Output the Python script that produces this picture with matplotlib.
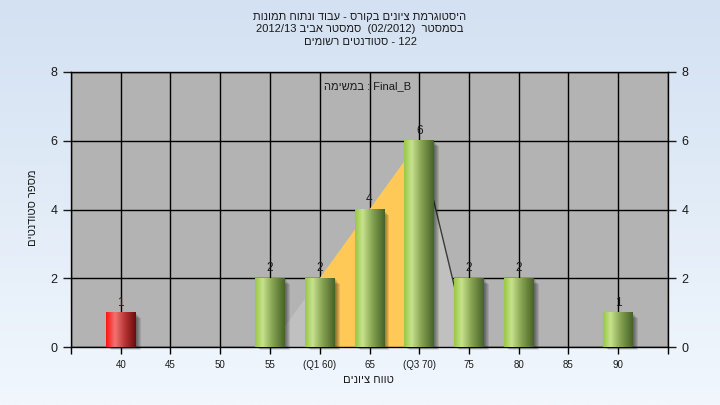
import numpy as np
import matplotlib
matplotlib.use("Agg")
from matplotlib import pyplot as plt
from matplotlib.colors import LinearSegmentedColormap
from matplotlib.patches import Rectangle, Polygon

plt.rcParams["font.family"] = ["Liberation Sans", "DejaVu Sans"]

GRADES = [40, 45, 50, 55, 60, 65, 70, 75, 80, 85, 90]
TICK_LABELS = ["40", "45", "50", "55", "(Q1 60)", "65", "(Q3 70)", "75", "80", "85", "90"]
COUNTS = [1, 0, 0, 2, 2, 4, 6, 2, 2, 0, 1]
PASS_GRADE = 55

# triangle behind the bars and the quartile band
TRI_X = [55, 70, 75]
TRI_Y = [0, 6, 0]
Q1, Q3 = 60, 70

TITLE_1 = "היסטוגרמת ציונים בקורס - עבוד ונתוח תמונות"
TITLE_2A = "סמסטר אביב"
TITLE_2B = "בסמסטר"
TITLE_3 = "סטודנטים רשומים"
TASK = "במשימה"
X_LABEL = "טווח ציונים"
Y_LABEL = "מספר סטודנטים"


def rtl(s):
    # matplotlib has no bidi, so lay the hebrew out in visual order
    return s[::-1]


green = LinearSegmentedColormap.from_list(
    "g", [(0, "#98c845"), (0.25, "#c8e28e"), (0.6, "#83a150"), (1, "#48632a")])
red = LinearSegmentedColormap.from_list(
    "r", [(0, "#ff1515"), (0.3, "#f27272"), (0.65, "#b43232"), (1, "#6c0c0c")])

fig = plt.figure(figsize=(7.2, 4.05), dpi=100)

# background gradient
bg = fig.add_axes([0, 0, 1, 1], zorder=-5)
bg.imshow(np.linspace(0, 1, 256)[:, None], aspect="auto", extent=[0, 1, 0, 1],
          cmap=LinearSegmentedColormap.from_list("bg", ["#d3e1f2", "#f1f7fd"]))
bg.axis("off")

ax = fig.add_axes([71 / 720, 1 - 347 / 405, 597 / 720, 275 / 405])
ax.set_facecolor("#b3b3b3")
ax.set_axisbelow(True)
ax.grid(True, color="black", linewidth=1)

# triangle + quartile band
ax.add_patch(Polygon(list(zip(TRI_X, TRI_Y)), closed=True, facecolor="#c0c0c0",
                     edgecolor="none", zorder=1.5))
qx = [Q1, Q1, Q3, Q3]
qy = [0, np.interp(Q1, TRI_X, TRI_Y), np.interp(Q3, TRI_X, TRI_Y), 0]
ax.add_patch(Polygon(list(zip(qx, qy)), closed=True, facecolor="#ffc957",
                     edgecolor="none", zorder=1.6))
ax.plot(TRI_X[1:], TRI_Y[1:], color="#3a3a3a", linewidth=1, zorder=1.7)

width = 3.0
px = 60 / 597
py = 8 / 275
grad = np.linspace(0, 1, 64)[None, :]
for g, c in zip(GRADES, COUNTS):
    if c == 0:
        continue
    x0 = g - width / 2
    # soft shadow
    for k in range(1, 6):
        ax.add_patch(Rectangle((x0 + k * px, -k * py * 0.6), width, c - k * py * 0.5,
                               facecolor="black", alpha=0.1, edgecolor="none",
                               zorder=2, clip_on=False))
    cmap = red if g < PASS_GRADE else green
    ax.imshow(grad, cmap=cmap, aspect="auto", extent=[x0, x0 + width, 0, c],
              zorder=3, interpolation="bilinear")
    ax.text(g, c + 0.12, str(c), ha="center", va="bottom", fontsize=8.5,
            color="#3a1010" if g < PASS_GRADE else "#1a1a1a", zorder=4)

ax.set_xlim(35, 95)
ax.set_ylim(0, 8)
ax.set_xticks(range(35, 96, 5))
ax.set_xticklabels([""] + TICK_LABELS + [""], fontsize=7, color="#1a1a1a")
ax.set_yticks([0, 2, 4, 6, 8])
ax.tick_params(axis="y", labelsize=9, length=6, width=1, right=True,
               labelright=True, colors="#1a1a1a")
ax.tick_params(axis="x", length=5, width=1, pad=4)
for s in ax.spines.values():
    s.set_color("black")
    s.set_linewidth(1)

fig.text(0.5, 1 - 17 / 405, rtl(TITLE_1), ha="center", va="center", fontsize=8,
         color="#1a1a1a")
fig.text(0.5, 1 - 29 / 405,
         "2012/13 " + rtl(TITLE_2A) + "  (02/2012)  " + rtl(TITLE_2B),
         ha="center", va="center", fontsize=8, color="#1a1a1a")
fig.text(0.5, 1 - 42 / 405, rtl(TITLE_3) + " - 122", ha="center", va="center",
         fontsize=8, color="#1a1a1a")
fig.text(368 / 720, 1 - 86 / 405, rtl(TASK) + " : Final_B", ha="center",
         va="center", fontsize=8, color="#1a1a1a")
fig.text(368 / 720, 1 - 380 / 405, rtl(X_LABEL), ha="center", va="center",
         fontsize=8, color="#1a1a1a")
fig.text(33 / 720, 1 - 208 / 405, rtl(Y_LABEL), ha="center", va="center",
         fontsize=8, rotation=90, color="#1a1a1a")

fig.savefig("out.png", dpi=100)
plt.close(fig)
